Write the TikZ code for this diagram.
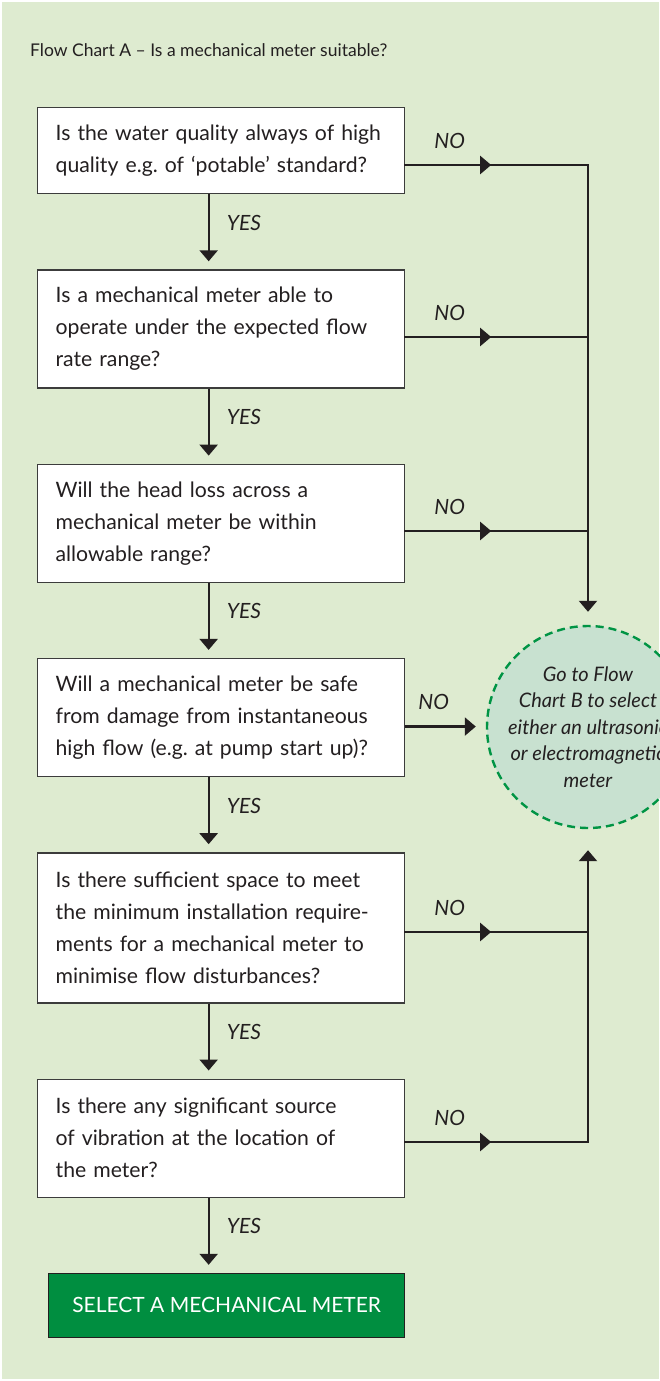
\documentclass[tikz,border=0pt]{standalone}
\usepackage{fontspec}
\setmainfont{Lato}
\usetikzlibrary{positioning,arrows.meta,decorations.markings}

\definecolor{chartbg}{RGB}{222,235,208}
\definecolor{circfill}{RGB}{200,225,208}
\definecolor{dashgreen}{RGB}{0,148,68}
\definecolor{selgreen}{RGB}{0,142,64}
\definecolor{ink}{RGB}{35,31,32}
\definecolor{boxline}{RGB}{60,60,60}

\begin{document}
\frenchspacing
\begin{tikzpicture}[
        x=1pt, y=-1pt,
        question/.style={
            rectangle, draw=boxline, line width=1.3pt, fill=white,
            minimum width=367pt, text width=331pt,
            inner xsep=18pt, inner ysep=0pt, align=left, text=ink,
            font=\fontsize{21.2}{32}\selectfont
        },
        answer/.style={
            anchor=base west, inner sep=0pt, text=ink,
            font=\fontsize{21}{24}\selectfont\itshape
        },
        flow/.style={line width=2.3pt, draw=ink, -{Triangle[length=11pt,width=18pt]}},
        midflow/.style={
            line width=2.3pt, draw=ink, line cap=rect, postaction={decorate},
            decoration={markings, mark=at position 0.47 with {\arrow{Triangle[length=11pt,width=18pt]}}}
        }
      ]

  \useasboundingbox (0,0) rectangle (660,1381);
  \clip (0,0) rectangle (660,1381);
  \fill [white] (0,0) rectangle (660,1381);
  \fill [chartbg] (2,2) rectangle (659,1379);

  \node   (title) [anchor=west,inner sep=0pt,text=ink,font=\fontsize{17.5}{20}\selectfont] at (30,50) {Flow Chart A – Is a mechanical meter suitable?};

  % questions down the left
  \node   (q1) [question,anchor=north west,minimum height=86pt] at (37,107) {Is the water quality always of high\\quality e.g. of ‘potable’ standard?};
  \node   (q2) [question,below=75pt of q1,minimum height=118pt] {Is a mechanical meter able to\\operate under the expected flow\\rate range?};
  \node   (q3) [question,below=75pt of q2,minimum height=118pt] {Will the head loss across a\\mechanical meter be within\\allowable range?};
  \node   (q4) [question,below=75pt of q3,minimum height=118pt] {Will a mechanical meter be safe\\from damage from instantaneous\\high flow (e.g. at pump start up)?};
  \node   (q5) [question,below=75pt of q4,minimum height=150pt] {Is there sufficient space to meet\\the minimum installation require-\\ments for a mechanical meter to\\minimise flow disturbances?};
  \node   (q6) [question,below=75pt of q5,minimum height=118pt] {Is there any significant source\\of vibration at the location of\\the meter?};

  \node   (sel) [below=75pt of q6.south east,anchor=north east,minimum width=356pt,minimum height=64pt,draw=ink,line width=1.3pt,fill=selgreen,text=white,font=\fontsize{21}{24}\selectfont] {SELECT A MECHANICAL METER};

  % the other chart
  \node   (goto) [circle,minimum size=202pt,inner sep=0pt,fill=circfill,draw=dashgreen,line width=2.4pt,dash pattern=on 8pt off 5pt,
                  label={[name=gotext,align=center,text=ink,font=\fontsize{20}{26.5}\selectfont\itshape]center:Go to Flow\\Chart B to select\\either an ultrasonic\\or electromagnetic\\meter}] at (588,727) {};

  \coordinate (j1) at (588,165);
  \coordinate (j2) at (588,337);
  \coordinate (j3) at (588,531);
  \coordinate (j4) at ([yshift=-9pt]q4.east);
  \coordinate (j5) at (588,932);
  \coordinate (j6) at (588,1142);

  % YES arrows
  \foreach \a/\b in {q1/q2,q2/q3,q3/q4,q4/q5,q5/q6,q6/sel}
    \draw [flow,shorten >=8pt] ([xshift=-12.5pt]\a.south) -- node [answer,pos=0,xshift=17pt,yshift=-36pt] {YES} ([xshift=-12.5pt]\a.south |- \b.north);

  % NO arrows
  \foreach \q/\j in {q1/j1,q2/j2,q3/j3,q5/j5,q6/j6}
    \draw [midflow] (\q.east |- \j) -- node [answer,pos=0,xshift=28pt,yshift=17pt] {NO} (\j);
  \draw [flow,shorten >=10pt] (j4) -- node [answer,pos=0,xshift=12pt,yshift=17pt] {NO} (j4 -| goto.west);

  \draw [flow,shorten >=13pt] (j1) -- (goto.north);
  \draw [flow,shorten >=21pt] (j6) -- (goto.south);

\end{tikzpicture}
\end{document}
